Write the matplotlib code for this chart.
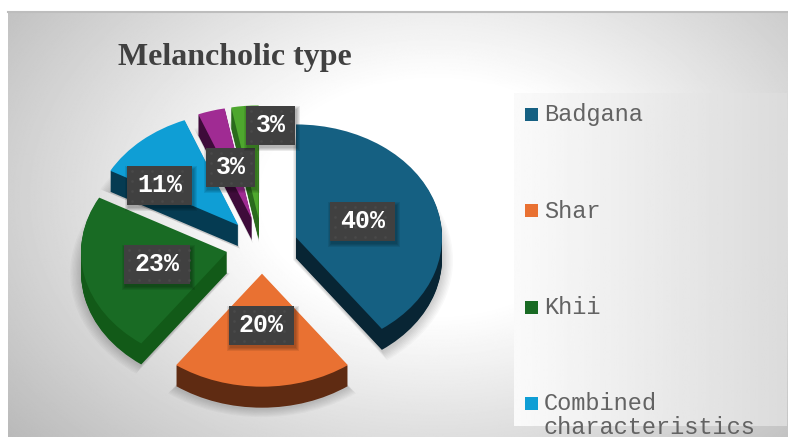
import numpy as np
import matplotlib
matplotlib.use('Agg')
import matplotlib.pyplot as plt
from matplotlib.patches import Rectangle

title = 'Melancholic type'
categories = ['Badgana', 'Shar', 'Khii', 'Combined\ncharacteristics', 'Other 1', 'Other 2']
values = [40, 20, 23, 11, 3, 3]
pct_labels = ['40%', '20%', '23%', '11%', '3%', '3%']
top_colors = ['#156082', '#E97132', '#196B24', '#0F9ED5', '#A02B93', '#4EA72E']
side_colors = ['#082534', '#5F2B12', '#125A18', '#053B52', '#3E0B3A', '#2A6B1C']
legend_count = 4

W, H = 788, 437
W_in, H_in = W / 100, H / 100

# pixel layout of the pie
cx, cy = 262, 246
rx, ry = 146, 113
depth = 21
explode = 0.245

# centres of the dark label boxes, pixels
box_x = [362.5, 261.5, 157, 159.5, 230.5, 270.5]
box_y = [221.5, 325.5, 264.5, 185.5, 167.5, 125.5]
box_w = [65, 65, 66, 65, 49, 49]
box_h = 39
legend_y = [114.5, 210.5, 307.5, 403.5]

fig = plt.figure(figsize=(W_in, H_in), dpi=100, facecolor='white')

# background
bg = fig.add_axes([0, 0, 1, 1], zorder=0)
yy, xx = np.mgrid[0:H, 0:W]
dist = np.sqrt(((xx - 430) / 430.0)**2 + ((yy - 190) / 300.0)**2)
shade = np.clip(1.0 - 0.23 * np.clip(dist - 0.4, 0, 1) / 0.75, 0, 1)
bg.imshow(shade, cmap='gray', vmin=0, vmax=1, extent=(8, W, H, 12), aspect='auto',
          interpolation='bilinear')
bg.plot([8, W], [12, 12], color='#BDBDBD', lw=1.5)

# legend panel
panel = np.linspace(0.98, 0.86, 100).reshape(1, -1)
bg.imshow(panel, cmap='gray', vmin=0, vmax=1, extent=(514, 787, 426, 93), aspect='auto')
bg.set_xlim(0, W)
bg.set_ylim(H, 0)
bg.axis('off')

# pie axes, stretched so one unit is rx by ry pixels
ax = fig.add_axes([0, 0, 1, 1], zorder=1)
ax.patch.set_alpha(0)


def draw_pie(colors, dy=0.0, radius=1.0, alpha=None):
    wedges, _ = ax.pie(values, colors=colors, startangle=90, counterclock=False,
                       explode=[explode / radius] * len(values), radius=radius,
                       center=(0, -dy / ry), frame=False,
                       wedgeprops={'linewidth': 0, 'alpha': alpha})
    return wedges


# soft shadow
for k in range(8):
    draw_pie(['black'] * len(values), dy=depth + 1, radius=1.0 + 0.012 * (8 - k), alpha=0.025)

# side faces then top face
for d in np.arange(depth, 0, -1):
    draw_pie(side_colors, dy=float(d))
draw_pie(top_colors)

ax.set_aspect('auto')
ax.set_xlim(-cx / rx, (W - cx) / rx)
ax.set_ylim(-(H - cy) / ry, cy / ry)
ax.axis('off')

# overlay in pixels
ov = fig.add_axes([0, 0, 1, 1], zorder=2)
ov.patch.set_alpha(0)
ov.set_xlim(0, W)
ov.set_ylim(H, 0)
ov.axis('off')

ov.text(118, 57, title, family='Liberation Serif', weight='bold', fontsize=23,
        color='#404040', ha='left', va='center')

for i, lab in enumerate(pct_labels):
    x0 = box_x[i] - box_w[i] / 2
    y0 = box_y[i] - box_h / 2
    for k in range(4):
        ov.add_patch(Rectangle((x0 + 1 - k, y0 + 3 - k), box_w[i] + 2 * k + 1, box_h + 2 * k,
                               facecolor='black', alpha=0.08, lw=0))
    ov.add_patch(Rectangle((x0, y0), box_w[i], box_h, facecolor='#404040', lw=0))
    # dotted texture of the label boxes
    gx, gy = np.meshgrid(np.arange(x0 + 5, x0 + box_w[i], 10), np.arange(y0 + 5, y0 + box_h, 10))
    ov.scatter(gx.ravel(), gy.ravel(), s=4, color='#494949', lw=0)
    ov.text(box_x[i], box_y[i] - 0.5, lab, family='Liberation Mono', weight='bold', fontsize=18,
            color='white', ha='center', va='center')

for i in range(legend_count):
    ov.add_patch(Rectangle((525, legend_y[i] - 6.5), 13, 13, facecolor=top_colors[i], lw=0))
    first_line_y = legend_y[i] + 0.5
    for j, line in enumerate(categories[i].split('\n')):
        ov.text(544, first_line_y + j * 23, line, family='Liberation Mono', fontsize=17,
                color='#636363', ha='left', va='center')

fig.savefig('out.png', dpi=100, facecolor='white')
